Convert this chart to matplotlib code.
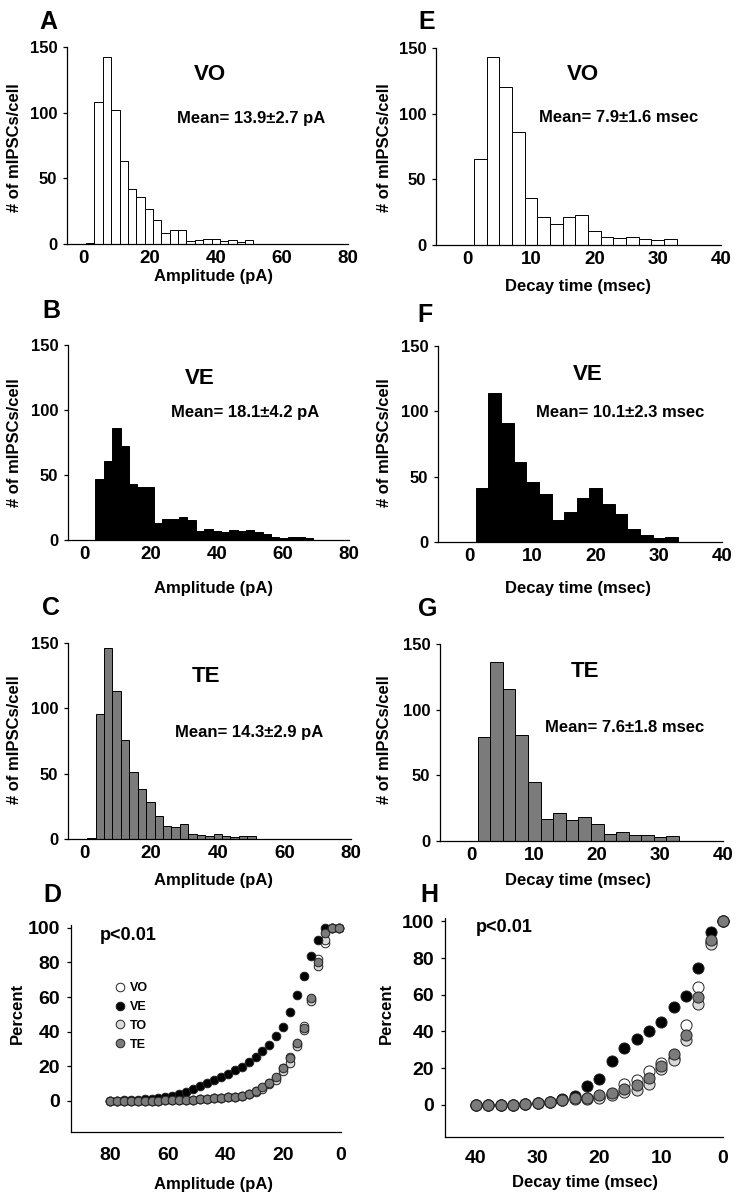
import matplotlib
matplotlib.use("Agg")
import matplotlib.pyplot as plt

plt.rcParams['font.family'] = ['Liberation Sans', 'DejaVu Sans']
plt.rcParams['font.weight'] = 'bold'

# ---------------- data ----------------
amp_bin_left = [0.77, 3.3, 5.83, 8.36, 10.89, 13.42, 15.95, 18.48, 21.01, 23.54,
                26.07, 28.6, 31.13, 33.66, 36.19, 38.72, 41.25, 43.78, 46.31, 48.84,
                51.37, 53.9, 56.43, 58.96, 61.49, 64.02, 66.55]
amp_bin_width = 2.53
amp_vo = [1, 108, 142.5, 102, 63, 42, 35.5, 26.6, 18.3, 8, 11, 10.5, 2.5, 3, 4, 3.5,
          2, 2.8, 1.8, 3, 0, 0, 0, 0, 0, 0, 0]
amp_ve = [0, 47, 61, 86, 72, 43, 41, 40.5, 13.3, 16.4, 16, 17.4, 15.4, 6.7, 8.7, 7.2,
          6.4, 7.7, 6.7, 7.7, 6.2, 4.6, 2.6, 1.5, 2.6, 2, 1.5]
amp_te = [1, 95.7, 146, 113, 76, 51, 38.5, 28.3, 17.6, 10, 9.2, 11.7, 3.6, 3, 2.5,
          3.8, 2, 1.5, 2.3, 2, 0, 0, 0, 0, 0, 0, 0]

dec_bin_left = [1, 3, 5, 7, 9, 11, 13, 15, 17, 19, 21, 23, 25, 27, 29, 31]
dec_bin_width = 2
dec_vo = [65.7, 143, 120, 85.8, 35.8, 21, 16, 21.6, 22.6, 11, 6, 5.3, 6, 4.6, 3.8, 4.6]
dec_ve = [41, 114, 91, 61, 46, 37, 17, 23, 33.6, 41, 29, 21.6, 10, 5.6, 2.8, 3.8]
dec_te = [79.4, 136, 115.5, 81, 45.3, 16.8, 21, 16.3, 18, 13.2, 5, 6.6, 4.6, 4.6, 3, 3.8]

amp_means = ["Mean= 13.9\u00b12.7 pA", "Mean= 18.1\u00b14.2 pA", "Mean= 14.3\u00b12.9 pA"]
dec_means = ["Mean= 7.9\u00b11.6 msec", "Mean= 10.1\u00b12.3 msec", "Mean= 7.6\u00b11.8 msec"]
groups_hist = ["VO", "VE", "TE"]

# cumulative amplitude (panel D)
cum_amp_x = [80.0, 77.6, 75.2, 72.8, 70.4, 68.0, 65.6, 63.2, 60.8, 58.4, 56.0, 53.6,
             51.2, 48.8, 46.4, 44.0, 41.6, 39.2, 36.8, 34.4, 32.0, 29.6, 27.2, 24.8,
             22.4, 20.0, 17.6, 15.2, 12.8, 10.4, 8.0, 5.6, 3.2, 0.8]
cum_amp_ve = [0, 0, 0.2, 0.4, 0.6, 0.8, 1.2, 1.6, 2.2, 3, 4, 5.3, 7, 8.5, 10, 11.8,
              13.5, 15.5, 17.5, 19.8, 22.5, 25.5, 29, 32.5, 37.5, 42.4, 51.5, 61.4,
              72, 83.6, 93, 100, 100, 100]
cum_amp_vo = [0, 0, 0, 0, 0, 0, 0, 0, 0.2, 0.3, 0.4, 0.5, 0.7, 0.9, 1.1, 1.3, 1.6,
              2, 2.4, 3, 4, 5.5, 7.5, 10, 13, 19, 25.5, 33, 43, 59, 82, 91, 100, 100]
cum_amp_to = [0, 0, 0, 0, 0, 0, 0, 0, 0.2, 0.3, 0.4, 0.5, 0.7, 0.9, 1.1, 1.3, 1.6,
              2, 2.4, 3, 3.8, 5, 7, 9.5, 12, 17, 22, 31.5, 41, 58, 78, 93, 100, 100]
cum_amp_te = [0, 0, 0, 0, 0, 0, 0, 0, 0.2, 0.3, 0.4, 0.5, 0.7, 0.9, 1.1, 1.3, 1.6,
              2, 2.4, 3, 4, 5.5, 8, 10.5, 14, 19, 24.7, 33.4, 42, 59.5, 80.5, 97, 100, 100]

# cumulative decay time (panel H)
cum_dec_x = [40, 38, 36, 34, 32, 30, 28, 26, 24, 22, 20, 18, 16, 14, 12, 10, 8, 6, 4, 2, 0]
cum_dec_ve = [0, 0, 0, 0, 0.5, 1, 1.5, 3, 5, 10, 14.3, 24, 31, 36, 40.5, 45, 53.6,
              59.5, 74.5, 94.3, 100]
cum_dec_vo = [0, 0, 0, 0, 0.3, 1, 1.5, 2.8, 3.5, 3.5, 4, 6, 11.5, 13.6, 18.5, 22.7,
              25.5, 43.6, 64.5, 89, 100]
cum_dec_to = [0, 0, 0, 0, 0.3, 1, 1.5, 2.8, 3.2, 3.3, 3.5, 5.5, 6.7, 7.8, 11.3, 19.5,
              24.5, 35.5, 55, 87.7, 100]
cum_dec_te = [0, 0, 0, 0, 0.3, 0.9, 1.5, 2.8, 3.6, 3.6, 5.5, 6.5, 8.5, 11, 14.5, 21,
              27.5, 38, 58.7, 90, 100]

cum_labels = ["VO", "VE", "TO", "TE"]

# ---------------- layout helpers ----------------
W, H = 738, 1199
fig = plt.figure(figsize=(W / 100, H / 100), dpi=100)


def rect(x0, y0, x1, y1):
    return [x0 / W, 1 - y1 / H, (x1 - x0) / W, (y1 - y0) / H]


def ftext(px, py, s, **kw):
    fig.text(px / W, 1 - py / H, s, **kw)


LABEL_FS = 12


def style_axes(ax, xfs, yfs, xpad, ypad):
    for side in ("top", "right"):
        ax.spines[side].set_visible(False)
    for side in ("left", "bottom"):
        ax.spines[side].set_linewidth(0.9)
    ax.tick_params(axis="y", direction="out", length=3, width=0.9,
                   labelsize=yfs, pad=ypad)
    ax.tick_params(axis="x", direction="out", length=0, width=0.9,
                   labelsize=xfs, pad=xpad)
    for lab in ax.get_xticklabels() + ax.get_yticklabels():
        lab.set_fontweight("bold")


def hist_panel(box, lefts, width, heights, face, xlim, xticks):
    ax = fig.add_axes(rect(*box))
    ax.bar(lefts, heights, width=width, align="edge", color=face,
           edgecolor="black", linewidth=0.7)
    ax.set_xlim(*xlim)
    ax.set_ylim(0, 150)
    ax.set_xticks(xticks)
    ax.set_yticks([0, 50, 100, 150])
    style_axes(ax, xfs=13.5, yfs=12, xpad=4, ypad=4)
    return ax


faces = ["white", "black", "#7b7b7b"]

# amplitude histograms (left column)
amp_boxes = [(67, 47, 348, 244), (68, 345, 349, 540), (68, 643, 351, 839)]
amp_data = [amp_vo, amp_ve, amp_te]
for box, vals, face in zip(amp_boxes, amp_data, faces):
    hist_panel(box, amp_bin_left, amp_bin_width, vals, face, (-5, 80), [0, 20, 40, 60, 80])

# decay histograms (right column)
dec_boxes = [(436, 48, 721, 245), (438, 346, 722, 542), (440, 644, 723, 841)]
dec_data = [dec_vo, dec_ve, dec_te]
for box, vals, face in zip(dec_boxes, dec_data, faces):
    hist_panel(box, dec_bin_left, dec_bin_width, vals, face, (-5, 40), [0, 10, 20, 30, 40])

# ---- texts for histogram panels ----
LETTER_FS = 18
for letter, (px, py) in zip("ABC", [(48, 22), (51, 311), (51, 608)]):
    ftext(px, py, letter, fontsize=LETTER_FS, fontweight="bold", ha="center", va="center")
for letter, (px, py) in zip("EFG", [(427, 22), (425, 315), (428, 609)]):
    ftext(px, py, letter, fontsize=LETTER_FS, fontweight="bold", ha="center", va="center")

for g, (px, py) in zip(groups_hist, [(210, 75), (200, 378), (206, 677)]):
    ftext(px, py, g, fontsize=16, fontweight="bold", ha="center", va="center")
for g, (px, py) in zip(groups_hist, [(583, 75), (588, 375), (585, 672)]):
    ftext(px, py, g, fontsize=16, fontweight="bold", ha="center", va="center")

for m, (px, py) in zip(amp_means, [(251, 118), (245, 412), (249, 732)]):
    ftext(px, py, m, fontsize=12, fontweight="bold", ha="center", va="center")
for m, (px, py) in zip(dec_means, [(619, 118), (620, 412), (625, 727)]):
    ftext(px, py, m, fontsize=12, fontweight="bold", ha="center", va="center")

for py in [148, 443, 740]:
    ftext(15, py, "# of mIPSCs/cell", fontsize=LABEL_FS, fontweight="bold",
          rotation=90, ha="center", va="center")
    ftext(384, py, "# of mIPSCs/cell", fontsize=LABEL_FS, fontweight="bold",
          rotation=90, ha="center", va="center")
for py in [277, 588, 881]:
    ftext(213, py, "Amplitude (pA)", fontsize=LABEL_FS, fontweight="bold",
          ha="center", va="center")
for py in [286, 588, 881]:
    ftext(578, py, "Decay time (msec)", fontsize=LABEL_FS, fontweight="bold",
          ha="center", va="center")

# ---------------- cumulative panels ----------------
series_style = [
    ("VO", "white"),
    ("TO", "#d9d9d9"),
    ("VE", "black"),
    ("TE", "#7b7b7b"),
]


def cum_panel(box, x, series, xlim, ylim, xticks, ms, xpad):
    ax = fig.add_axes(rect(*box))
    handles = {}
    for name, face in series_style:
        h, = ax.plot(x, series[name], linestyle="none", marker="o", ms=ms,
                     markerfacecolor=face, markeredgecolor="#222222",
                     markeredgewidth=0.7, clip_on=False, label=name)
        handles[name] = h
    ax.set_xlim(*xlim)
    ax.set_ylim(*ylim)
    ax.set_xticks(xticks)
    ax.set_yticks([0, 20, 40, 60, 80, 100])
    style_axes(ax, xfs=14, yfs=14, xpad=xpad, ypad=5)
    return ax, handles


axD, hD = cum_panel((71, 925, 341, 1132), cum_amp_x,
                    {"VO": cum_amp_vo, "VE": cum_amp_ve, "TO": cum_amp_to, "TE": cum_amp_te},
                    (93.5, 0), (-18.1, 101.7), [80, 60, 40, 20, 0], 6.2, 10.5)
axH, hH = cum_panel((445, 918, 723, 1137), cum_dec_x,
                    {"VO": cum_dec_vo, "VE": cum_dec_ve, "TO": cum_dec_to, "TE": cum_dec_te},
                    (45, 0), (-17.6, 101.9), [40, 30, 20, 10, 0], 8, 9.5)

legD = axD.legend([hD[k] for k in cum_labels], cum_labels, loc="upper left",
                  bbox_to_anchor=(114 / W, 1 - 982 / H), bbox_transform=fig.transFigure,
                  frameon=False, fontsize=9, handlelength=0.9, handletextpad=0.4,
                  labelspacing=0.55, borderpad=0, borderaxespad=0)
for t in legD.get_texts():
    t.set_fontweight("bold")

ftext(43, 895, "D", fontsize=LETTER_FS, fontweight="bold", ha="left", va="center")
ftext(420, 895, "H", fontsize=LETTER_FS, fontweight="bold", ha="left", va="center")
ftext(100, 935, "p<0.01", fontsize=13, fontweight="bold", ha="left", va="center")
ftext(476, 928, "p<0.01", fontsize=13, fontweight="bold", ha="left", va="center")
ftext(17, 1013, "Percent", fontsize=LABEL_FS, fontweight="bold", rotation=90,
      ha="center", va="center")
ftext(386, 1013, "Percent", fontsize=LABEL_FS, fontweight="bold", rotation=90,
      ha="center", va="center")
ftext(213, 1185, "Amplitude (pA)", fontsize=LABEL_FS, fontweight="bold",
      ha="center", va="center")
ftext(585, 1182, "Decay time (msec)", fontsize=LABEL_FS, fontweight="bold",
      ha="center", va="center")

fig.savefig("out.png", dpi=100)
